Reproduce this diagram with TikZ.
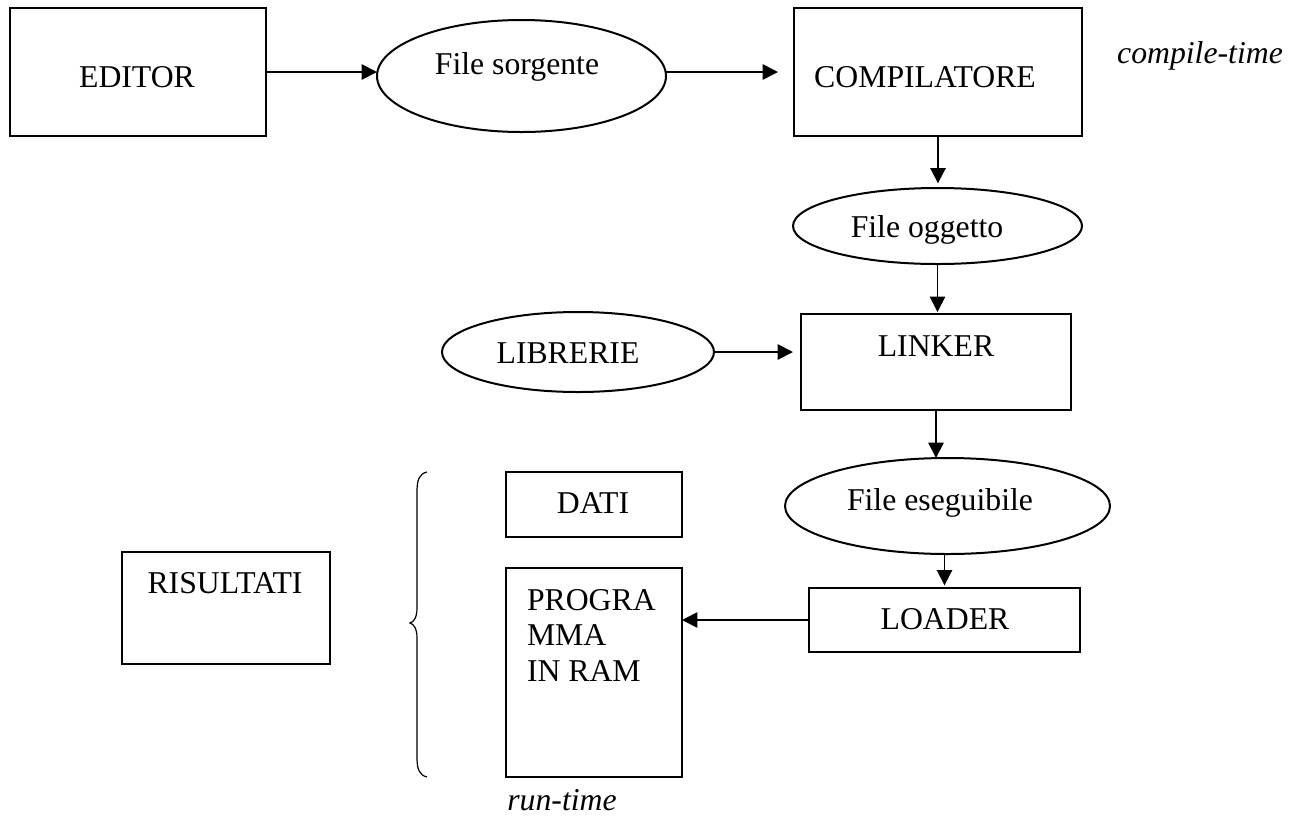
\documentclass[tikz,border=0pt]{standalone}
\usepackage{fontspec}
\setmainfont{Liberation Serif}
\usetikzlibrary{arrows.meta,shapes.geometric}
\begin{document}
\begin{tikzpicture}[x=0.75pt,y=-0.75pt,
  box/.style={draw, line width=1.5pt, inner sep=0pt, outer sep=0pt, rectangle},
  oval/.style={draw, line width=1.5pt, inner sep=0pt, outer sep=0pt, ellipse},
  lbl/.style={inner sep=0pt, outer sep=0pt, anchor=base, font=\fontsize{23.8}{28}\selectfont},
  ilbl/.style={lbl, font=\fontsize{23.8}{28}\selectfont\itshape},
  llbl/.style={lbl, anchor=base west},
  arr/.style={line width=1.3pt, -{Triangle[length=11.5pt,width=11.5pt]}}]
\useasboundingbox (0,0) rectangle (1289,815);

% shapes
\node[box, minimum width=192pt, minimum height=96pt] (ed) at (138,72) {};
\node[oval, minimum width=216.75pt, minimum height=84pt] (fs) at (521.5,76) {};
\node[box, minimum width=216pt, minimum height=96pt] (comp) at (938,72) {};
\node[oval, minimum width=216.75pt, minimum height=57pt] (fo) at (937.5,226) {};
\node[oval, minimum width=204pt, minimum height=60pt] (lib) at (578,352) {};
\node[box, minimum width=202.5pt, minimum height=72pt] (lnk) at (936,362) {};
\node[oval, minimum width=243.75pt, minimum height=72pt] (fe) at (947.5,506) {};
\node[box, minimum width=203.25pt, minimum height=48pt] (ldr) at (944.5,620) {};
\node[box, minimum width=132pt, minimum height=48.75pt] (dati) at (594,504.5) {};
\node[box, minimum width=132pt, minimum height=156.75pt] (prog) at (594,672.5) {};
\node[box, minimum width=156pt, minimum height=84pt] (ris) at (226,608) {};

% labels
\node[lbl] (edT) at (137,87) {EDITOR};
\node[lbl] (fsT) at (517,74) {File sorgente};
\node[lbl] (compT) at (925,87) {COMPILATORE};
\node[ilbl] (ctT) at (1200,63) {compile-time};
\node[lbl] (foT) at (927,237) {File oggetto};
\node[lbl] (libT) at (568,363) {LIBRERIE};
\node[lbl] (lnkT) at (936,356) {LINKER};
\node[lbl] (feT) at (940,510) {File eseguibile};
\node[lbl] (ldrT) at (945,629) {LOADER};
\node[lbl] (datiT) at (593,513) {DATI};
\node[llbl] (progT1) at (527,610) {PROGRA};
\node[llbl] (progT2) at (527,645) {MMA};
\node[llbl] (progT3) at (527,681) {IN RAM};
\node[lbl] (risT) at (225,593) {RISULTATI};
\node[ilbl] (rtT) at (562,810) {run-time};

% connectors
\draw[arr] (ed.east) -- (ed.east -| fs.west);
\draw[arr, shorten >=12pt] (fs.east |- ed.east) -- (comp.west);
\draw[arr, shorten >=3.5pt] (comp.south) -- (comp.south |- fo.north);
\draw[arr, shorten >=1.5pt] (fo.south) -- (fo.south |- lnk.north);
\draw[arr, shorten >=6pt] (lib.east) -- (lib.east -| lnk.west);
\draw[arr] (lnk.south) -- (lnk.south |- fe.north);
\draw[arr, shorten >=2pt] (ldr.north |- fe.south) -- (ldr.north);
\draw[arr] (ldr.west) -- (ldr.west -| prog.east);

% brace
\draw[line width=0.9pt] (427,472) .. controls (419,474) and (417,480) .. (417,492)
  -- (417,608) .. controls (417,617) and (414,622) .. (410,623)
  .. controls (414,624) and (417,629) .. (417,638)
  -- (417,757) .. controls (417,769) and (419,775) .. (427,777);
\end{tikzpicture}
\end{document}
